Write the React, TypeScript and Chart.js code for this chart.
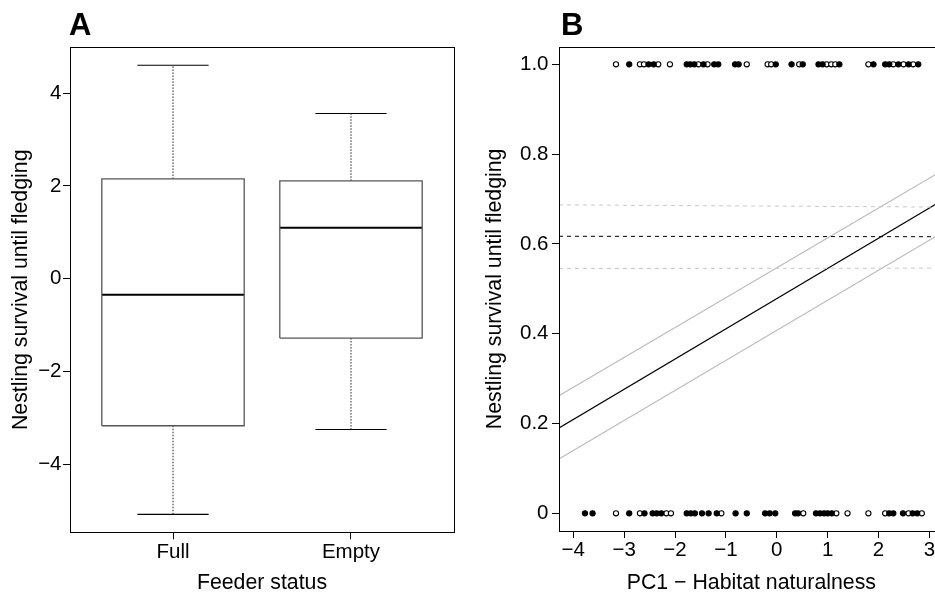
import React, { useEffect, useRef } from 'react';
import { Chart, registerables } from 'chart.js';

Chart.register(...registerables);

// ---------- Panel A data (box plot) ----------
const categories = ['Full', 'Empty'];
const whiskerLow = [-5.08, -3.25];
const q1 = [-3.17, -1.28];
const median = [-0.345, 1.1];
const q3 = [2.15, 2.11];
const whiskerHigh = [4.6, 3.56];
const yTicksA = [-4, -2, 0, 2, 4];

// ---------- Panel B data ----------
const xTicksB = [-4, -3, -2, -1, 0, 1, 2, 3];
const yTicksB = [0, 0.2, 0.4, 0.6, 0.8, 1.0];
// survived (y = 1)
const survivedFilledX = [-2.9, -2.52, -2.42, -1.77, -1.7, -1.62, -1.44, -1.23, -1.15, -0.82, -0.75, -0.02, 0.29, 0.51, 0.82, 0.9, 1.23, 1.9, 2.13, 2.21, 2.39, 2.59, 2.78];
const survivedOpenX = [-3.16, -2.69, -2.61, -2.33, -2.1, -1.54, -1.36, -0.59, -0.18, -0.11, 0.44, 0.98, 1.07, 1.15, 1.8, 2.29, 2.49, 2.68];
// died (y = 0)
const diedFilledX = [-3.77, -3.62, -2.9, -2.6, -2.44, -2.36, -2.27, -1.77, -1.69, -1.61, -1.47, -1.34, -1.18, -0.81, -0.59, -0.23, -0.14, -0.03, 0.36, 0.42, 0.77, 0.85, 0.93, 1.0, 1.08, 2.21, 2.29, 2.48, 2.67, 2.76];
const diedOpenX = [-3.16, -2.69, -2.17, -2.08, -1.09, 0.52, 1.17, 1.39, 1.8, 2.13, 2.59, 2.85];
// fitted lines
const lineX = [-4.28, 3.28];
const fitY = [0.19, 0.699];
const fitUpperY = [0.262, 0.765];
const fitLowerY = [0.121, 0.627];
const meanY = [0.617, 0.616];
const meanUpperY = [0.687, 0.682];
const meanLowerY = [0.545, 0.546];

const FONT = "'Liberation Sans', Arial, Helvetica, sans-serif";
const FS = 20.5;
const FT = 21.3;

const minusFmt = (v: number) => (v < 0 ? '\u2212' + Math.abs(v) : String(v));

const framePlugin = {
  id: 'frame',
  afterDatasetsDraw(chart: any) {
    const { ctx, chartArea } = chart;
    const l = Math.round(chartArea.left) + 0.5;
    const t = Math.round(chartArea.top) + 0.5;
    const r = Math.round(chartArea.right) + 0.5;
    const b = Math.round(chartArea.bottom) + 0.5;
    ctx.save();
    ctx.strokeStyle = '#000';
    ctx.lineWidth = 1;
    ctx.strokeRect(l, t, r - l, b - t);
    ctx.restore();
  },
};

function seg(x0: number, y0: number, x1: number, y1: number, color: string, width: number, dash: number[] = []) {
  return {
    data: [{ x: x0, y: y0 }, { x: x1, y: y1 }],
    showLine: true,
    borderColor: color,
    borderWidth: width,
    borderDash: dash,
    pointRadius: 0,
    fill: false,
  };
}

function axisTicks(values: number[]) {
  return (scale: any) => {
    scale.ticks = values.map((v) => ({ value: v }));
  };
}

export default function App() {
  const refA = useRef<HTMLCanvasElement>(null);
  const refB = useRef<HTMLCanvasElement>(null);

  useEffect(() => {
    Chart.defaults.font.family = FONT;
    Chart.defaults.color = '#000';

    // ----- Panel A -----
    const boxHalf = 0.4;
    const capHalf = 0.2;
    const dsA: any[] = [];
    categories.forEach((_, i) => {
      const c = i + 1;
      dsA.push({
        data: [
          { x: c - boxHalf, y: q1[i] },
          { x: c + boxHalf, y: q1[i] },
          { x: c + boxHalf, y: q3[i] },
          { x: c - boxHalf, y: q3[i] },
          { x: c - boxHalf, y: q1[i] },
        ],
        showLine: true,
        borderColor: '#555',
        borderWidth: 1.3,
        pointRadius: 0,
        fill: false,
      });
      dsA.push(seg(c - boxHalf, median[i], c + boxHalf, median[i], '#000', 2));
      dsA.push(seg(c, q3[i], c, whiskerHigh[i], '#222', 1, [1.5, 1.5]));
      dsA.push(seg(c, q1[i], c, whiskerLow[i], '#222', 1, [1.5, 1.5]));
      dsA.push(seg(c - capHalf, whiskerHigh[i], c + capHalf, whiskerHigh[i], '#000', 1.1));
      dsA.push(seg(c - capHalf, whiskerLow[i], c + capHalf, whiskerLow[i], '#000', 1.1));
    });

    const chartA = new Chart(refA.current!, {
      type: 'scatter',
      data: { datasets: dsA },
      plugins: [framePlugin],
      options: {
        animation: false,
        responsive: true,
        maintainAspectRatio: false,
        layout: { padding: { left: 0, top: 47.3, right: 16, bottom: 0 } },
        plugins: { legend: { display: false }, tooltip: { enabled: false } },
        scales: {
          x: {
            type: 'linear',
            min: 0.4213,
            max: 2.5787,
            afterBuildTicks: axisTicks([1, 2]),
            afterFit: (s: any) => { s.height = 64.7; },
            ticks: {
              font: { size: FS },
              padding: 1,
              callback: (v: any) => categories[Math.round(Number(v)) - 1] ?? '',
            },
            grid: { drawOnChartArea: false, drawTicks: true, tickLength: 7, color: '#000' },
            border: { display: false },
            title: { display: true, text: 'Feeder status', font: { size: FT }, padding: { top: 0, bottom: 1.2 } },
          },
          y: {
            type: 'linear',
            min: -5.466,
            max: 4.987,
            afterBuildTicks: axisTicks(yTicksA),
            afterFit: (s: any) => { s.width = 70; },
            ticks: { font: { size: FS }, padding: 1.5, callback: (v: any) => minusFmt(Number(v)) },
            grid: { drawOnChartArea: false, drawTicks: true, tickLength: 7, color: '#000' },
            border: { display: false },
            title: { display: true, text: 'Nestling survival until fledging', font: { size: FT }, padding: { top: 8.5, bottom: 0 } },
          },
        },
      },
    });

    // ----- Panel B -----
    const pts = (xs: number[], y: number) => xs.map((x) => ({ x, y }));
    const pointStyle = (filled: boolean) => ({
      showLine: false,
      pointRadius: 2.6,
      pointBorderWidth: 1.1,
      pointBorderColor: '#000',
      pointBackgroundColor: filled ? '#000' : '#fff',
    });
    const dsB: any[] = [
      { ...seg(lineX[0], meanUpperY[0], lineX[1], meanUpperY[1], '#c8c8c8', 1, [4, 4]) },
      { ...seg(lineX[0], meanLowerY[0], lineX[1], meanLowerY[1], '#c8c8c8', 1, [4, 4]) },
      { ...seg(lineX[0], meanY[0], lineX[1], meanY[1], '#000', 1, [4, 4]) },
      { ...seg(lineX[0], fitUpperY[0], lineX[1], fitUpperY[1], '#bdbdbd', 1.1) },
      { ...seg(lineX[0], fitLowerY[0], lineX[1], fitLowerY[1], '#bdbdbd', 1.1) },
      { ...seg(lineX[0], fitY[0], lineX[1], fitY[1], '#000', 1.3) },
      { data: pts(survivedFilledX, 1), ...pointStyle(true) },
      { data: pts(survivedOpenX, 1), ...pointStyle(false) },
      { data: pts(diedFilledX, 0), ...pointStyle(true) },
      { data: pts(diedOpenX, 0), ...pointStyle(false) },
    ];

    const chartB = new Chart(refB.current!, {
      type: 'scatter',
      data: { datasets: dsB },
      plugins: [framePlugin],
      options: {
        animation: false,
        responsive: true,
        maintainAspectRatio: false,
        layout: { padding: { left: 0, top: 46.7, right: 6.3, bottom: 0 } },
        plugins: { legend: { display: false }, tooltip: { enabled: false } },
        scales: {
          x: {
            type: 'linear',
            min: -4.28,
            max: 3.28,
            afterBuildTicks: axisTicks(xTicksB),
            afterFit: (s: any) => { s.height = 66; },
            ticks: { font: { size: FS }, padding: 0, callback: (v: any) => minusFmt(Number(v)) },
            grid: { drawOnChartArea: false, drawTicks: true, tickLength: 7, color: '#000' },
            border: { display: false },
            title: { display: true, text: 'PC1 \u2212 Habitat naturalness', font: { size: FT }, padding: { top: 0, bottom: 1.2 } },
          },
          y: {
            type: 'linear',
            min: -0.0394,
            max: 1.0392,
            afterBuildTicks: axisTicks(yTicksB),
            afterFit: (s: any) => { s.width = 89; },
            ticks: {
              font: { size: FS },
              padding: 3.5,
              callback: (v: any) => (Number(v) === 0 ? '0' : Number(v).toFixed(1)),
            },
            grid: { drawOnChartArea: false, drawTicks: true, tickLength: 7, color: '#000' },
            border: { display: false },
            title: { display: true, text: 'Nestling survival until fledging', font: { size: FT }, padding: { top: 12, bottom: 0 } },
          },
        },
      },
    });

    return () => {
      chartA.destroy();
      chartB.destroy();
    };
  }, []);

  const letter: React.CSSProperties = {
    position: 'absolute',
    top: 9,
    fontFamily: FONT,
    fontWeight: 'bold',
    fontSize: 31,
    lineHeight: '31px',
    color: '#000',
  };

  return (
    <div style={{ position: 'fixed', left: 0, top: 0, width: 935, height: 597, overflow: 'hidden', background: '#fff' }}>
      <div style={{ position: 'absolute', left: 0, top: 0, width: 470, height: 597 }}>
        <canvas ref={refA} />
      </div>
      <div style={{ position: 'absolute', left: 470, top: 0, width: 480, height: 597 }}>
        <canvas ref={refB} />
      </div>
      <div style={{ ...letter, left: 69 }}>A</div>
      <div style={{ ...letter, left: 561 }}>B</div>
    </div>
  );
}
